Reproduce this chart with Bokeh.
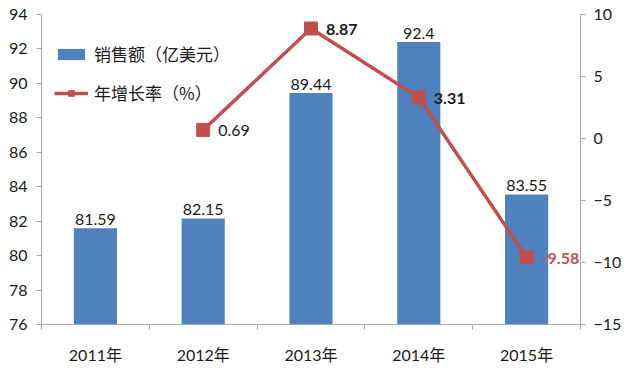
import numpy as np
from bokeh.plotting import figure
from bokeh.models import (Range1d, LinearAxis, FixedTicker, CustomJSTickFormatter,
                          ColumnDataSource, Legend, LegendItem)
from bokeh.core.properties import value
from bokeh.embed import file_html
from bokeh.resources import INLINE

# ---- data ----
years = ["2011年", "2012年", "2013年", "2014年", "2015年"]
sales = [81.59, 82.15, 89.44, 92.4, 83.55]          # 销售额（亿美元）
growth = [np.nan, 0.69, 8.87, 3.31, -9.58]           # 年增长率（%）
left_ticks = [76, 78, 80, 82, 84, 86, 88, 90, 92, 94]
right_ticks = [-15, -10, -5, 0, 5, 10]

# ---- styles ----
BAR = "#4F81BD"
RED = "#C0504D"
AX = "#A6A6A6"
TXT = "#1a1a1a"
FONT = "Lato, 'Noto Sans CJK SC', sans-serif"
CJK = "'Noto Sans CJK SC', sans-serif"
growth_label_colors = [TXT, TXT, TXT, TXT, RED]
growth_label_styles = ["normal", "normal", "bold", "bold", "bold"]

xs = np.arange(len(years)) + 0.5

p = figure(width=624, height=366, output_backend="svg", toolbar_location=None,
           x_range=Range1d(0, len(years)), y_range=Range1d(76, 94),
           min_border_left=41, min_border_right=37, min_border_top=14, min_border_bottom=35)
p.outline_line_color = None
p.xgrid.visible = False
p.ygrid.visible = False
p.extra_y_ranges = {"growth": Range1d(-15, 10)}

src = ColumnDataSource(dict(
    x=xs, sales=sales, growth=growth,
    sales_txt=[f"{v:g}" for v in sales],
    growth_txt=["" if np.isnan(v) else f"{v:g}" for v in growth],
    gcol=growth_label_colors, gsty=growth_label_styles,
))

bars = p.vbar(x="x", top="sales", bottom=76, width=0.4, source=src,
              fill_color=BAR, line_color=None)
p.text(x="x", y="sales", text="sales_txt", source=src, text_align="center",
       text_baseline="alphabetic", y_offset=-9, text_font=value(FONT),
       text_font_size="16px", text_color=TXT)

line = p.line(x="x", y="growth", source=src, y_range_name="growth",
              line_color=RED, line_width=3.5)
marks = p.scatter(x="x", y="growth", source=src, y_range_name="growth",
                  marker="square", size=13, fill_color=RED, line_color=RED)
p.text(x="x", y="growth", text="growth_txt", source=src, y_range_name="growth",
       text_align="left", text_baseline="middle", x_offset=15, y_offset=1,
       text_font=value(FONT), text_font_size="16px", text_color="gcol",
       text_font_style="gsty")

# axes
xa = p.xaxis[0]
xa.ticker = FixedTicker(ticks=list(xs), minor_ticks=list(range(len(years) + 1)))
xa.formatter = CustomJSTickFormatter(args=dict(labels=years),
                                     code="return labels[Math.floor(tick)];")
xa.major_tick_line_color = None
xa.major_tick_out = 0
xa.major_tick_in = 0
xa.minor_tick_line_color = AX
xa.minor_tick_out = 5
xa.minor_tick_in = 0
xa.axis_line_color = AX
xa.major_label_standoff = 15
xa.major_label_text_font = FONT
xa.major_label_text_font_size = "16px"
xa.major_label_text_color = TXT

ya = p.yaxis[0]
ya.ticker = FixedTicker(ticks=left_ticks, minor_ticks=[])
ya.axis_line_color = AX
ya.major_tick_line_color = AX
ya.major_tick_out = 5
ya.major_tick_in = 0
ya.minor_tick_line_color = None
ya.major_label_standoff = 9
ya.major_label_text_font = FONT
ya.major_label_text_font_size = "16px"
ya.major_label_text_color = TXT

ra = LinearAxis(y_range_name="growth",
                ticker=FixedTicker(ticks=right_ticks, minor_ticks=[]))
ra.axis_line_color = AX
ra.major_tick_line_color = AX
ra.major_tick_out = 5
ra.major_tick_in = 0
ra.minor_tick_line_color = None
ra.major_label_standoff = 8
ra.major_label_text_font = FONT
ra.major_label_text_font_size = "16px"
ra.major_label_text_color = TXT
p.add_layout(ra, "right")

legend = Legend(items=[
    LegendItem(label="销售额（亿美元）", renderers=[bars]),
    LegendItem(label="年增长率（%）", renderers=[line, marks]),
], location=(13, 219))
legend.background_fill_alpha = 0
legend.border_line_color = None
legend.glyph_width = 34
legend.glyph_height = 14
legend.label_height = 20
legend.spacing = 14
legend.padding = 5
legend.margin = 0
legend.label_standoff = 6
legend.label_text_font = CJK
legend.label_text_font_size = "17px"
legend.label_text_color = TXT
p.add_layout(legend)

open("out.html", "w").write(file_html(p, INLINE))
